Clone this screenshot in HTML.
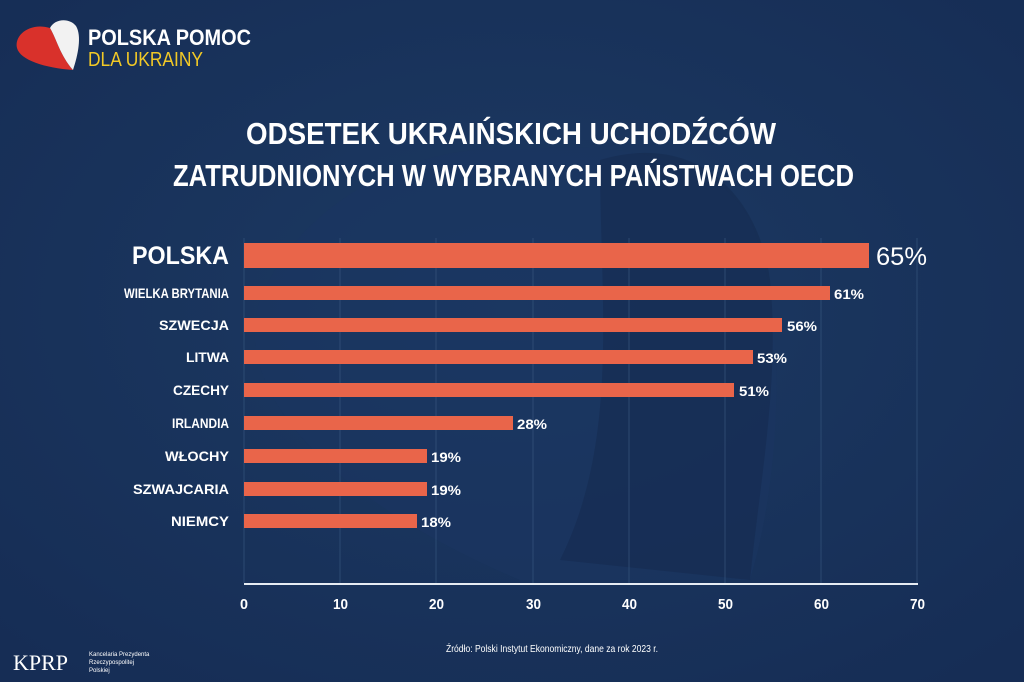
<!DOCTYPE html>
<html><head><meta charset="utf-8"><style>
html,body{margin:0;padding:0;background:#17305a;}
svg{display:block}
text{font-family:"Liberation Sans",sans-serif;font-weight:bold;fill:#fff}
</style></head><body>
<svg width="1024" height="682" viewBox="0 0 1024 682">
<defs>
<radialGradient id="bg" cx="0.5" cy="0.45" r="0.7">
<stop offset="0" stop-color="#1c3a63"/><stop offset="1" stop-color="#162d55"/>
</radialGradient>
</defs>
<rect width="1024" height="682" fill="url(#bg)"/>
<path d="M520,150 C420,140 300,200 260,300 C230,390 330,500 520,580 L750,580 C780,480 790,320 750,220 C720,160 620,140 520,150Z" fill="#1a3660" opacity="0.6"/>
<path d="M600,160 C700,130 760,200 770,280 C780,380 760,480 750,580 L560,560 C620,440 600,300 600,160Z" fill="#152b50" opacity="0.6"/>
<path d="M50,28 C30,22 14,35 17,48 C20,60 45,68 73,70 C60,55 57,40 50,28Z" fill="#d9312b"/>
<path d="M50,28 C55,18 70,18 76,26 C82,36 78,55 73,70 C60,55 57,40 50,28Z" fill="#f2f2f2"/>
<text x="88" y="45" font-size="22" textLength="163" lengthAdjust="spacingAndGlyphs">POLSKA POMOC</text>
<text x="88" y="66" font-size="20" textLength="115" lengthAdjust="spacingAndGlyphs" style="fill:#f2c926;font-weight:normal">DLA UKRAINY</text>
<text x="246" y="144" font-size="31" textLength="530" lengthAdjust="spacingAndGlyphs">ODSETEK UKRAIŃSKICH UCHODŹCÓW</text>
<text x="173" y="186" font-size="31" textLength="681" lengthAdjust="spacingAndGlyphs">ZATRUDNIONYCH W WYBRANYCH PAŃSTWACH OECD</text>
<g stroke="#3a5a82" stroke-width="1" opacity="0.6">
<line x1="244" y1="238" x2="244" y2="583"/><line x1="340" y1="238" x2="340" y2="583"/>
<line x1="436" y1="238" x2="436" y2="583"/><line x1="533" y1="238" x2="533" y2="583"/>
<line x1="629" y1="238" x2="629" y2="583"/><line x1="725" y1="238" x2="725" y2="583"/>
<line x1="821" y1="238" x2="821" y2="583"/><line x1="917" y1="238" x2="917" y2="583"/>
</g>
<line x1="244" y1="584" x2="918" y2="584" stroke="#e6ecf3" stroke-width="2"/>
<g fill="#e9654a">
<rect x="244" y="243" width="625" height="25"/>
<rect x="244" y="286" width="586" height="14"/>
<rect x="244" y="318" width="538" height="14"/>
<rect x="244" y="350" width="509" height="14"/>
<rect x="244" y="383" width="490" height="14"/>
<rect x="244" y="416" width="269" height="14"/>
<rect x="244" y="449" width="183" height="14"/>
<rect x="244" y="482" width="183" height="14"/>
<rect x="244" y="514" width="173" height="14"/>
</g>
<g font-size="14">
<text x="132" y="264" font-size="25" textLength="97" lengthAdjust="spacingAndGlyphs">POLSKA</text>
<text x="124" y="298" textLength="105" lengthAdjust="spacingAndGlyphs">WIELKA BRYTANIA</text>
<text x="159" y="330" textLength="70" lengthAdjust="spacingAndGlyphs">SZWECJA</text>
<text x="186" y="362" textLength="43" lengthAdjust="spacingAndGlyphs">LITWA</text>
<text x="173" y="395" textLength="56" lengthAdjust="spacingAndGlyphs">CZECHY</text>
<text x="172" y="428" textLength="57" lengthAdjust="spacingAndGlyphs">IRLANDIA</text>
<text x="165" y="461" textLength="64" lengthAdjust="spacingAndGlyphs">WŁOCHY</text>
<text x="133" y="494" textLength="96" lengthAdjust="spacingAndGlyphs">SZWAJCARIA</text>
<text x="171" y="526" textLength="58" lengthAdjust="spacingAndGlyphs">NIEMCY</text>
</g>
<g font-size="14">
<text x="876" y="265" font-size="25" textLength="51" lengthAdjust="spacingAndGlyphs" style="font-weight:normal">65%</text>
<text x="834" y="299" textLength="30" lengthAdjust="spacingAndGlyphs">61%</text>
<text x="787" y="331" textLength="30" lengthAdjust="spacingAndGlyphs">56%</text>
<text x="757" y="363" textLength="30" lengthAdjust="spacingAndGlyphs">53%</text>
<text x="739" y="396" textLength="30" lengthAdjust="spacingAndGlyphs">51%</text>
<text x="517" y="429" textLength="30" lengthAdjust="spacingAndGlyphs">28%</text>
<text x="431" y="462" textLength="30" lengthAdjust="spacingAndGlyphs">19%</text>
<text x="431" y="495" textLength="30" lengthAdjust="spacingAndGlyphs">19%</text>
<text x="421" y="527" textLength="30" lengthAdjust="spacingAndGlyphs">18%</text>
</g>
<g font-size="15">
<text x="240" y="609" textLength="8" lengthAdjust="spacingAndGlyphs">0</text>
<text x="333" y="609" textLength="15" lengthAdjust="spacingAndGlyphs">10</text>
<text x="429" y="609" textLength="15" lengthAdjust="spacingAndGlyphs">20</text>
<text x="526" y="609" textLength="15" lengthAdjust="spacingAndGlyphs">30</text>
<text x="622" y="609" textLength="15" lengthAdjust="spacingAndGlyphs">40</text>
<text x="718" y="609" textLength="15" lengthAdjust="spacingAndGlyphs">50</text>
<text x="814" y="609" textLength="15" lengthAdjust="spacingAndGlyphs">60</text>
<text x="910" y="609" textLength="15" lengthAdjust="spacingAndGlyphs">70</text>
</g>
<text x="446" y="652" font-size="10" textLength="212" lengthAdjust="spacingAndGlyphs" style="font-weight:normal">Źródło: Polski Instytut Ekonomiczny, dane za rok 2023 r.</text>
<text x="13" y="670" font-size="22" style="font-family:'Liberation Serif',serif;font-weight:normal">KPRP</text>
<text x="89" y="656" font-size="6" style="font-weight:normal">Kancelaria Prezydenta</text>
<text x="89" y="664" font-size="6" style="font-weight:normal">Rzeczypospolitej</text>
<text x="89" y="672" font-size="6" style="font-weight:normal">Polskiej</text>
</svg>
</body></html>
